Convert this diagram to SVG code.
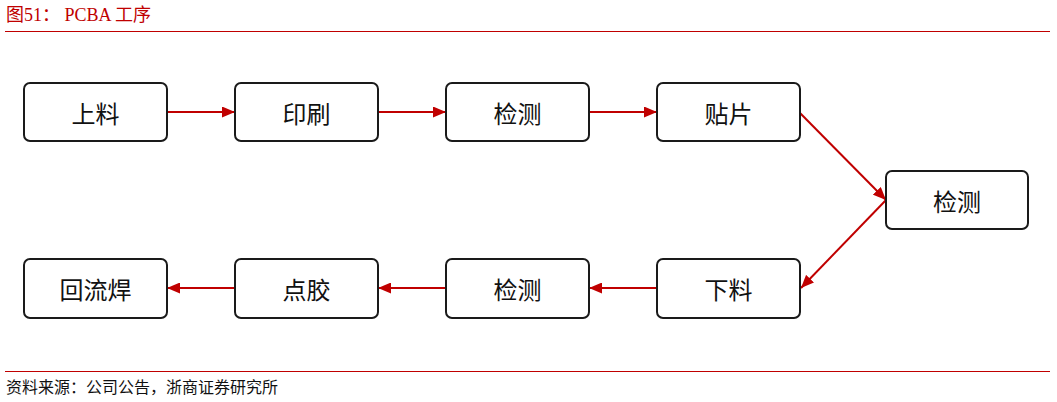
<svg xmlns="http://www.w3.org/2000/svg" width="1057" height="402" viewBox="0 0 1057 402">
<style>
.box{fill:#fff;stroke:#1a1a1a;stroke-width:2}
.lbl{font-family:"Noto Sans CJK SC","Noto Sans",sans-serif;font-size:24px;fill:#111;text-anchor:middle;dominant-baseline:central}
.conn{stroke:#c00000;stroke-width:2;fill:none;marker-end:url(#ah)}
.cap{font-family:"Liberation Serif","Noto Sans CJK SC",serif;fill:#c00000;font-size:18px}
.src{font-family:"Liberation Serif","Noto Sans CJK SC",serif;fill:#111;font-size:16px}
</style>
<defs>
<marker id="ah" markerWidth="13" markerHeight="11" refX="13" refY="5.5" orient="auto" markerUnits="userSpaceOnUse">
<path d="M0,0 L13,5.5 L0,11 Z" fill="#c00000"/>
</marker>
</defs>
<rect width="1057" height="402" fill="#fff"/>
<text class="cap" x="6" y="21">图51：  PCBA 工序</text>
<line x1="5" y1="31.5" x2="1050" y2="31.5" stroke="#c00000" stroke-width="1"/>
<line x1="5" y1="371.5" x2="1050" y2="371.5" stroke="#c00000" stroke-width="1"/>
<text class="src" x="6" y="393">资料来源：公司公告，浙商证券研究所</text>
<g id="connectors">
<line class="conn" x1="167" y1="112" x2="235" y2="112"/>
<line class="conn" x1="378" y1="112" x2="446" y2="112"/>
<line class="conn" x1="589" y1="112" x2="657" y2="112"/>
<line class="conn" x1="800" y1="113" x2="886" y2="200"/>
<line class="conn" x1="886" y1="200" x2="801" y2="288"/>
<line class="conn" x1="657" y1="288" x2="589" y2="288"/>
<line class="conn" x1="446" y1="288" x2="378" y2="288"/>
<line class="conn" x1="235" y1="288" x2="167" y2="288"/>
</g>
<g id="n1"><rect class="box" x="24" y="83" width="143" height="58" rx="6"/><text class="lbl" x="95.5" y="112">上料</text></g>
<g id="n2"><rect class="box" x="235" y="83" width="143" height="58" rx="6"/><text class="lbl" x="306.5" y="112">印刷</text></g>
<g id="n3"><rect class="box" x="446" y="83" width="143" height="58" rx="6"/><text class="lbl" x="517.5" y="112">检测</text></g>
<g id="n4"><rect class="box" x="657" y="83" width="143" height="58" rx="6"/><text class="lbl" x="728.5" y="112">贴片</text></g>
<g id="n5"><rect class="box" x="886" y="171" width="142" height="58" rx="6"/><text class="lbl" x="957" y="200">检测</text></g>
<g id="n6"><rect class="box" x="657" y="259" width="143" height="59" rx="6"/><text class="lbl" x="728.5" y="288.5">下料</text></g>
<g id="n7"><rect class="box" x="446" y="259" width="143" height="59" rx="6"/><text class="lbl" x="517.5" y="288.5">检测</text></g>
<g id="n8"><rect class="box" x="235" y="259" width="143" height="59" rx="6"/><text class="lbl" x="306.5" y="288.5">点胶</text></g>
<g id="n9"><rect class="box" x="24" y="259" width="143" height="59" rx="6"/><text class="lbl" x="95.5" y="288.5">回流焊</text></g>
</svg>
